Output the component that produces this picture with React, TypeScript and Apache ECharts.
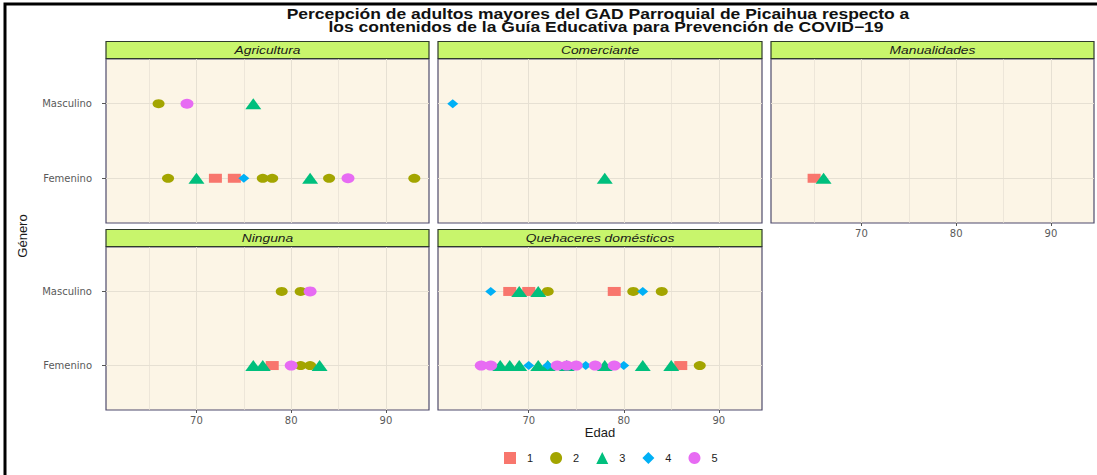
import React, { useEffect, useRef } from "react";
import * as echarts from "echarts";

// ---- data ----
const facets = ["Agricultura", "Comerciante", "Manualidades", "Ninguna", "Quehaceres domésticos"];
const genders = ["Femenino", "Masculino"];
const groups = ["1", "2", "3", "4", "5"];
const xTicks = [70, 80, 90];
const xGridLines = [65, 70, 75, 80, 85, 90];

// [edad, grupo]
const agriculturaMasculino = [[66, 2], [69, 5], [76, 3]];
const agriculturaFemenino = [[67, 2], [70, 3], [72, 1], [74, 1], [75, 4], [77, 2], [78, 2], [82, 3], [84, 2], [86, 5], [93, 2]];
const comercianteMasculino = [[62, 4]];
const comercianteFemenino = [[78, 3]];
const manualidadesMasculino: number[][] = [];
const manualidadesFemenino = [[65, 1], [66, 3]];
const ningunaMasculino = [[79, 2], [81, 2], [82, 5]];
const ningunaFemenino = [[76, 3], [77, 3], [78, 1], [80, 5], [81, 2], [82, 2], [83, 3]];
const quehaceresMasculino = [[66, 4], [68, 1], [69, 3], [70, 1], [71, 3], [72, 2], [79, 1], [81, 2], [82, 4], [84, 2]];
const quehaceresFemenino = [[65, 5], [66, 5], [67, 3], [68, 3], [69, 3], [70, 4], [71, 3], [72, 3], [72, 4], [73, 5], [74, 3], [74, 5], [75, 5], [76, 4], [77, 5], [78, 3], [79, 5], [80, 4], [82, 3], [85, 3], [86, 1], [88, 2]];

const femeninoByFacet = [agriculturaFemenino, comercianteFemenino, manualidadesFemenino, ningunaFemenino, quehaceresFemenino];
const masculinoByFacet = [agriculturaMasculino, comercianteMasculino, manualidadesMasculino, ningunaMasculino, quehaceresMasculino];

// ---- styles ----
const groupColors = ["#F8766D", "#A3A500", "#00BF7D", "#00B0F6", "#E76BF3"];
const groupSymbols = ["rect", "circle", "triangle", "diamond", "circle"];
const groupSizes: number[][] = [[13, 9], [12, 9], [16, 11], [11, 9], [13, 10]];

const panels = [
  { left: 106, top: 59, width: 323, height: 164 },
  { left: 438, top: 59, width: 324, height: 164 },
  { left: 771, top: 59, width: 323, height: 164 },
  { left: 106, top: 247, width: 323, height: 163 },
  { left: 438, top: 247, width: 324, height: 163 },
];
const stripH = 17;

export default function App() {
  const ref = useRef<HTMLDivElement>(null);
  useEffect(() => {
    document.body.style.margin = "0";
    const chart = echarts.init(ref.current!, undefined, { renderer: "svg" });

    const grids = panels.map((p) => ({
      left: p.left,
      top: p.top,
      width: p.width,
      height: p.height,
      show: true,
      backgroundColor: "#FCF5E6",
      borderColor: "#4f4b6c",
      borderWidth: 1.2,
      z: 0,
    }));

    const xAxes = panels.map((_, i) => {
      const showX = i >= 2;
      return {
        type: "value",
        gridIndex: i,
        min: 60.45,
        max: 94.55,
        axisLine: { show: false },
        splitLine: { show: false },
        axisTick: { show: showX, customValues: xTicks, length: 3, lineStyle: { color: "#555" } },
        axisLabel: {
          show: showX,
          customValues: xTicks,
          color: "#5a5a5a",
          fontFamily: "DejaVu Sans",
          fontSize: 10,
          margin: 5,
        },
        name: i === 4 ? "Edad" : "",
        nameLocation: "middle",
        nameGap: 16,
        nameTextStyle: { fontFamily: "Liberation Sans Narrow, Liberation Sans", fontSize: 13, color: "#1a1a1a" },
      };
    });

    const yAxes = panels.map((_, i) => {
      const showY = i === 0 || i === 3;
      return {
        type: "value",
        gridIndex: i,
        min: 0.4,
        max: 2.6,
        axisLine: { show: false },
        splitLine: { show: false },
        axisTick: { show: showY, customValues: [1, 2], length: 4, lineStyle: { color: "#555" } },
        axisLabel: {
          show: showY,
          customValues: [1, 2],
          formatter: (v: number) => genders[Math.round(v) - 1] || "",
          color: "#5a5a5a",
          fontFamily: "DejaVu Sans",
          fontSize: 10,
          margin: 14,
        },
      };
    });

    const series: any[] = [];
    panels.forEach((_, f) => {
      series.push({
        type: "scatter",
        name: "grid" + f,
        xAxisIndex: f,
        yAxisIndex: f,
        data: [],
        silent: true,
        z: 1,
        markLine: {
          silent: true,
          z: 1,
          symbol: ["none", "none"],
          label: { show: false },
          animation: false,
          data: [
            ...xGridLines.map((v) => ({
              xAxis: v,
              lineStyle: { color: "#e6e0d3", width: v % 10 === 0 ? 1 : 0.7, type: "solid" },
            })),
            ...genders.map((_, gi) => ({
              yAxis: gi + 1,
              lineStyle: { color: "#e6e0d3", width: 1, type: "solid" },
            })),
          ],
        },
      });
      groups.forEach((g, gi) => {
        const pts: number[][] = [];
        femeninoByFacet[f].forEach((d) => {
          if (d[1] === gi + 1) pts.push([d[0], 1]);
        });
        masculinoByFacet[f].forEach((d) => {
          if (d[1] === gi + 1) pts.push([d[0], 2]);
        });
        series.push({
          type: "scatter",
          name: g,
          xAxisIndex: f,
          yAxisIndex: f,
          data: pts,
          symbol: groupSymbols[gi],
          symbolSize: groupSizes[gi],
          itemStyle: { color: groupColors[gi], opacity: 1 },
          z: 3,
        });
      });
    });

    const graphics: any[] = [
      {
        type: "rect",
        shape: { x: 5, y: 4, width: 1200, height: 600 },
        style: { fill: "none", stroke: "#000", lineWidth: 3 },
      },
      {
        type: "text",
        x: 598,
        y: 14,
        scaleX: 1.25,
        style: {
          text: "Percepción de adultos mayores del GAD Parroquial de Picaihua respecto a",
          align: "center",
          verticalAlign: "middle",
          fontSize: 14,
          fontWeight: "bold",
          fontFamily: "Liberation Sans",
          fill: "#111",
        },
      },
      {
        type: "text",
        x: 606,
        y: 27,
        scaleX: 1.25,
        style: {
          text: "los contenidos de la Guía Educativa para Prevención de COVID−19",
          align: "center",
          verticalAlign: "middle",
          fontSize: 14,
          fontWeight: "bold",
          fontFamily: "Liberation Sans",
          fill: "#111",
        },
      },
      {
        type: "text",
        x: 22,
        y: 236,
        rotation: Math.PI / 2,
        style: {
          text: "Género",
          align: "center",
          verticalAlign: "middle",
          fontSize: 13,
          fontFamily: "Liberation Sans Narrow, Liberation Sans",
          fill: "#1a1a1a",
        },
      },
    ];
    panels.forEach((p, i) => {
      graphics.push({
        type: "rect",
        shape: { x: p.left, y: p.top - stripH - 0.5, width: p.width, height: stripH },
        style: { fill: "#C8F56C", stroke: "#2e3a2a", lineWidth: 1.2 },
      });
      graphics.push({
        type: "text",
        x: p.left + p.width / 2,
        y: p.top - stripH / 2 - 0.5,
        scaleX: 1.2,
        style: {
          text: facets[i],
          align: "center",
          verticalAlign: "middle",
          fontSize: 11.5,
          fontStyle: "italic",
          fontFamily: "Liberation Sans",
          fill: "#1a1a1a",
        },
      });
    });

    chart.setOption({
      animation: false,
      backgroundColor: "#ffffff",
      grid: grids,
      xAxis: xAxes,
      yAxis: yAxes,
      series,
      legend: {
        data: groups.map((g, gi) => ({ name: g, icon: groupSymbols[gi] })),
        left: 499,
        top: 447,
        itemWidth: 12,
        itemHeight: 12,
        itemGap: 17,
        textStyle: { fontFamily: "Liberation Sans Narrow, Liberation Sans", fontSize: 11, color: "#222", padding: [0, 0, 0, 6] },
      },
      graphic: graphics,
    });
    return () => chart.dispose();
  }, []);
  return <div ref={ref} style={{ position: "fixed", left: 0, top: 0, width: 1097, height: 475 }} />;
}
